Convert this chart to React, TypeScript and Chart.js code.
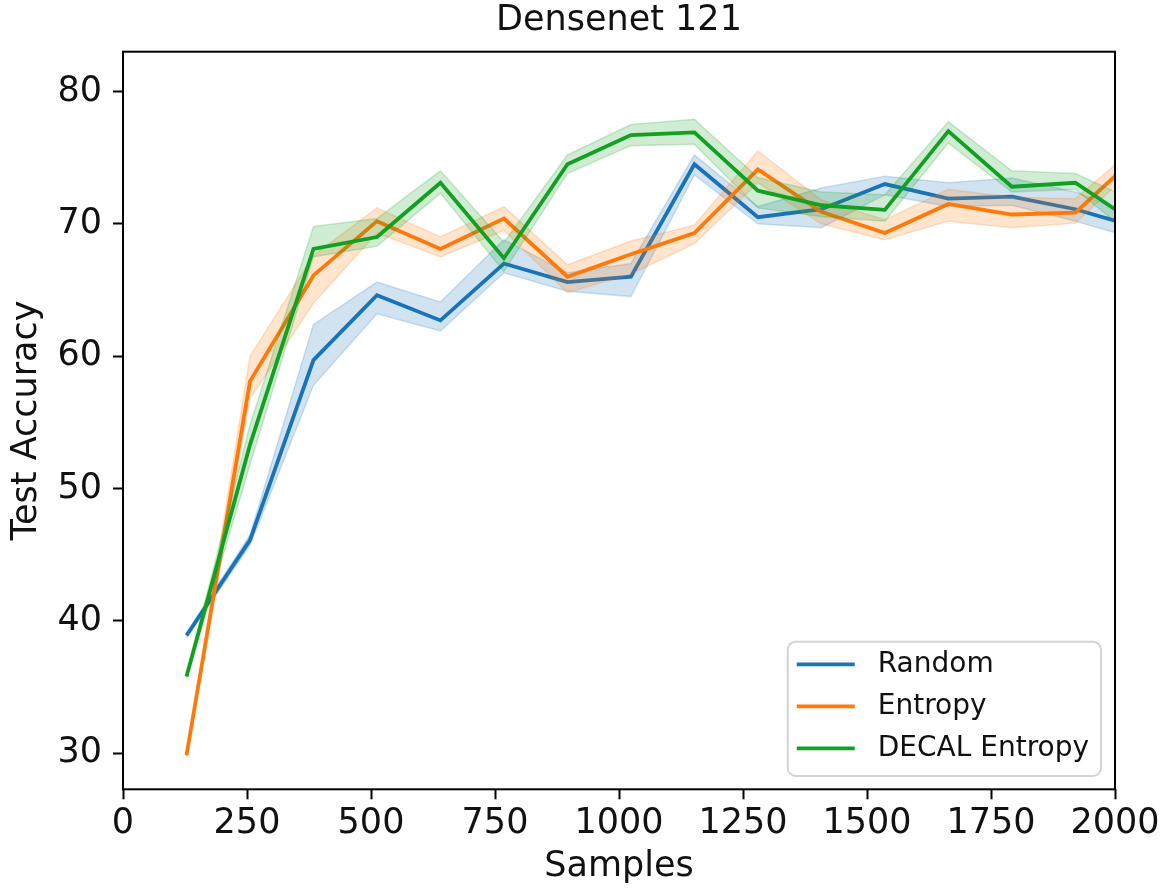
import { useEffect, useRef } from "react";
import { Chart, registerables } from "chart.js";

Chart.register(...registerables);

// 学習サンプル数（128刻み、最後の点は 2000 の枠外）
const samples = [128, 256, 384, 512, 640, 768, 896, 1024, 1152, 1280, 1408, 1536, 1664, 1792, 1920, 2048];

const randomMean = [38.9, 46.1, 59.7, 64.6, 62.7, 67.0, 65.6, 66.0, 74.5, 70.5, 71.1, 73.0, 71.9, 72.05, 71.1, 69.7];
const randomLow = [38.7, 45.7, 57.8, 63.2, 61.9, 66.3, 64.9, 64.5, 73.7, 70.0, 69.7, 72.2, 71.3, 71.4, 70.2, 68.8];
const randomHigh = [39.1, 46.5, 62.4, 65.6, 64.1, 68.8, 66.3, 67.0, 75.2, 71.3, 72.7, 73.6, 73.1, 73.45, 72.4, 70.5];

const entropyMean = [29.85, 58.1, 66.1, 70.2, 68.1, 70.4, 66.0, 67.7, 69.3, 74.1, 70.9, 69.3, 71.5, 70.7, 70.85, 75.25];
const entropyLow = [29.7, 56.8, 64.0, 69.3, 67.5, 69.5, 64.8, 66.2, 68.5, 73.1, 70.0, 68.8, 70.2, 69.7, 70.05, 74.5];
const entropyHigh = [30.0, 60.0, 67.6, 71.2, 69.0, 71.3, 66.9, 68.7, 69.9, 75.5, 71.8, 70.3, 72.6, 72.0, 71.9, 76.0];

const decalMean = [35.8, 53.3, 68.1, 69.0, 73.1, 67.4, 74.5, 76.7, 76.9, 72.5, 71.4, 71.05, 77.0, 72.8, 73.1, 69.9];
const decalLow = [35.6, 51.8, 67.5, 68.3, 72.3, 66.4, 73.8, 75.9, 76.0, 71.2, 70.55, 70.2, 76.1, 72.4, 72.6, 68.7];
const decalHigh = [36.0, 54.8, 69.8, 70.4, 74.0, 68.6, 75.2, 77.5, 77.9, 73.5, 72.4, 72.2, 77.7, 74.0, 73.8, 71.6];

const xTicks = [0, 250, 500, 750, 1000, 1250, 1500, 1750, 2000];
const yTicks = [30, 40, 50, 60, 70, 80];

const FONT = "DejaVu Sans";
const TEXT = "#111";
const W = 1168;
const H = 892;

const series = [
  { label: "Random", color: "#1a74b8", band: "rgba(26,116,184,0.2)", mean: randomMean, low: randomLow, high: randomHigh },
  { label: "Entropy", color: "#ff7a0a", band: "rgba(255,122,10,0.2)", mean: entropyMean, low: entropyLow, high: entropyHigh },
  { label: "DECAL Entropy", color: "#12a022", band: "rgba(18,160,34,0.2)", mean: decalMean, low: decalLow, high: decalHigh },
];

const toPoints = (ys: number[]) => samples.map((x, i) => ({ x, y: ys[i] }));

// matplotlib 風の四辺の枠
const framePlugin = {
  id: "frame",
  afterDatasetsDraw(chart: any) {
    const { ctx, chartArea: a } = chart;
    ctx.save();
    ctx.strokeStyle = "#000";
    ctx.lineWidth = 2;
    ctx.strokeRect(a.left, a.top, a.right - a.left, a.bottom - a.top);
    ctx.restore();
  },
};

// 右下の凡例（枠付き）
const boxLegendPlugin = {
  id: "boxLegend",
  afterDraw(chart: any) {
    const { ctx, chartArea: a } = chart;
    const items = chart.data.datasets.filter((d: any) => d.isMean);
    ctx.save();
    ctx.font = `28px '${FONT}'`;
    const textW = Math.max(...items.map((d: any) => ctx.measureText(d.label).width));
    const w = 9 + 58 + 22 + textW + 13;
    const h = 22.6 + 42 * (items.length - 1) + 27.7;
    const right = a.right - 14;
    const bottom = a.bottom - 13.3;
    const left = right - w;
    const top = bottom - h;
    ctx.beginPath();
    ctx.roundRect(left, top, w, h, 8);
    ctx.fillStyle = "rgba(255,255,255,0.8)";
    ctx.fill();
    ctx.strokeStyle = "#d4d4d4";
    ctx.lineWidth = 2;
    ctx.stroke();
    items.forEach((d: any, i: number) => {
      const y = top + 22.6 + 42 * i;
      ctx.strokeStyle = d.borderColor;
      ctx.lineWidth = 3.8;
      ctx.beginPath();
      ctx.moveTo(left + 9, y);
      ctx.lineTo(left + 67, y);
      ctx.stroke();
      ctx.fillStyle = TEXT;
      ctx.textBaseline = "middle";
      ctx.textAlign = "left";
      ctx.fillText(d.label, left + 90, y);
    });
    ctx.restore();
  },
};

export default function App() {
  const ref = useRef<HTMLCanvasElement>(null);

  useEffect(() => {
    if (!ref.current) return;
    const canvas = ref.current;
    canvas.width = W;
    canvas.height = H;

    const datasets: any[] = [];
    series.forEach((s, k) => {
      const base = datasets.length;
      const order = (series.length - k) * 2;
      datasets.push({
        label: s.label,
        isMean: true,
        data: toPoints(s.mean),
        borderColor: s.color,
        borderWidth: 3.8,
        pointRadius: 0,
        fill: false,
        clip: 0,
        order,
      });
      datasets.push({
        label: s.label + " low",
        data: toPoints(s.low),
        borderColor: s.band,
        borderWidth: 1.5,
        pointRadius: 0,
        fill: false,
        clip: 0,
        order: order - 1,
      });
      datasets.push({
        label: s.label + " high",
        data: toPoints(s.high),
        borderColor: s.band,
        backgroundColor: s.band,
        borderWidth: 1.5,
        pointRadius: 0,
        fill: base + 1,
        clip: 0,
        order: order - 1,
      });
    });

    const tickFont = { family: FONT, size: 35, lineHeight: 1.2 };
    const grid = {
      display: true,
      drawOnChartArea: false,
      drawTicks: true,
      tickLength: 10,
      tickWidth: 2,
      tickColor: "#000",
    };

    const chart = new Chart(canvas, {
      type: "line",
      data: { datasets },
      options: {
        responsive: false,
        maintainAspectRatio: false,
        animation: false,
        devicePixelRatio: 1,
        layout: { padding: { left: 0, right: 53, top: 0, bottom: 0 } },
        plugins: {
          legend: { display: false },
          tooltip: { enabled: false },
          title: {
            display: true,
            text: "Densenet 121",
            fullSize: false,
            color: TEXT,
            font: { family: FONT, size: 35, weight: "normal", lineHeight: 1.2 },
            padding: { top: 0, bottom: 9.7 },
          },
        },
        scales: {
          x: {
            type: "linear",
            min: 0,
            max: 2000,
            grid,
            border: { display: false },
            afterBuildTicks: (scale: any) => {
              scale.ticks = xTicks.map((v) => ({ value: v }));
            },
            afterFit: (scale: any) => {
              scale.height = 102.7;
            },
            ticks: {
              color: TEXT,
              font: tickFont,
              padding: 4,
              maxRotation: 0,
              autoSkip: false,
              callback: (v: number | string) => String(v),
            },
            title: {
              display: true,
              text: "Samples",
              color: TEXT,
              font: { family: FONT, size: 35, lineHeight: 1.2 },
              padding: { top: 0, bottom: 4 },
            },
          },
          y: {
            type: "linear",
            min: 27.28,
            max: 83.0,
            grid,
            border: { display: false },
            afterBuildTicks: (scale: any) => {
              scale.ticks = yTicks.map((v) => ({ value: v }));
            },
            afterFit: (scale: any) => {
              scale.width = 123;
            },
            ticks: {
              color: TEXT,
              font: tickFont,
              padding: 11,
              autoSkip: false,
              callback: (v: number | string) => String(v),
            },
            title: {
              display: true,
              text: "Test Accuracy",
              color: TEXT,
              font: { family: FONT, size: 35, lineHeight: 1.2 },
              padding: { top: 6, bottom: 0 },
            },
          },
        },
      },
      plugins: [framePlugin, boxLegendPlugin],
    } as any);

    return () => {
      chart.destroy();
    };
  }, []);

  return (
    <div style={{ position: "absolute", left: 0, top: 0, width: W, height: H, background: "#fff" }}>
      <canvas ref={ref} role="img" aria-label="Densenet 121 test accuracy chart" style={{ display: "block" }} />
    </div>
  );
}
